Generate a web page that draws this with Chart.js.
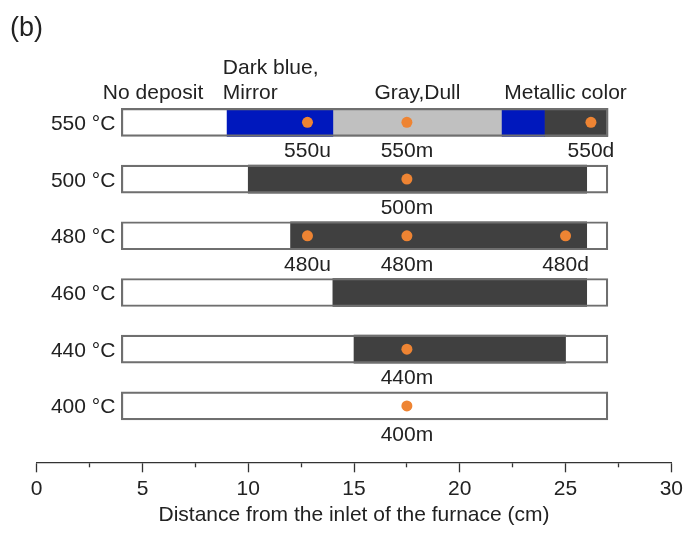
<!DOCTYPE html>
<html>
<head>
<meta charset="utf-8">
<script src="https://cdn.jsdelivr.net/npm/chart.js@4.4.1/dist/chart.umd.min.js"></script>
<style>
  html, body { margin: 0; padding: 0; background: #fff; }
  #wrap { width: 683px; height: 533px; }
</style>
</head>
<body>
<div id="wrap"><canvas id="depositChart"></canvas></div>
<script>
// Furnace set temperatures, top row first
const temps = ['550 °C', '500 °C', '480 °C', '460 °C', '440 °C', '400 °C'];

// Substrate tube extent along the furnace (cm)
const tubeStart = 4;
const tubeEnd = 27;

// Deposit zones: [from, to] in cm, and the row each one belongs to
const blueRows = ['550 °C', '550 °C'];
const blueSegs = [[9, 14], [22, 24]];
const grayRows = ['550 °C'];
const graySegs = [[14, 22]];
const darkRows = ['550 °C', '500 °C', '480 °C', '460 °C', '440 °C'];
const darkSegs = [[24, 27], [10, 26], [12, 26], [14, 26], [15, 25]];

// Sampling points
const sampleNames = ['550u', '550m', '550d', '500m', '480u', '480m', '480d', '440m', '400m'];
const sampleRows = ['550 °C', '550 °C', '550 °C', '500 °C', '480 °C', '480 °C', '480 °C', '440 °C', '400 °C'];
const samplePos = [12.8, 17.5, 26.2, 17.5, 12.8, 17.5, 25.0, 17.5, 17.5];

// Zone names printed above the 550 °C tube
const zoneNames = ['No deposit', ['Dark blue,', 'Mirror'], 'Gray,Dull', 'Metallic color'];
const zoneAt = [5.5, 8.8, 18, 25];
const zoneAlign = ['center', 'left', 'center', 'center'];

const xTitle = 'Distance from the inlet of the furnace (cm)';

const FONT = '"Liberation Sans", Arial, Helvetica, sans-serif';
const TEXT = '#222';

// row 550 °C sits at the top (y = 5), 400 °C at the bottom (y = 0)
const rowY = t => temps.length - 1 - temps.indexOf(t);
const segData = (segs, rows) => segs.map((s, i) => ({ x: s, y: rowY(rows[i]) }));

const barCommon = {
    type: 'bar',
    barThickness: 28,
    grouped: false,
    borderWidth: 0,
    borderSkipped: false,
    order: 2
};

const labels = {
    id: 'labels',
    afterDatasetsDraw(chart) {
        const { ctx, scales: { x, y } } = chart;
        ctx.save();
        ctx.fillStyle = TEXT;
        ctx.font = '21px ' + FONT;
        ctx.textBaseline = 'alphabetic';

        // temperature of each row, left of the tube
        ctx.textAlign = 'right';
        temps.forEach(t => {
            ctx.fillText(t, x.getPixelForValue(tubeStart) - 6, y.getPixelForValue(rowY(t)) + 7.5);
        });

        // sample names under the dots
        ctx.textAlign = 'center';
        const pts = chart.getDatasetMeta(chart.data.datasets.length - 1).data;
        pts.forEach((p, i) => ctx.fillText(sampleNames[i], p.x, p.y + 35));

        // zone names above the top tube
        const base = y.getPixelForValue(rowY('550 °C')) - 23;
        zoneNames.forEach((name, i) => {
            const lines = Array.isArray(name) ? name : [name];
            ctx.textAlign = zoneAlign[i];
            lines.forEach((line, k) => {
                ctx.fillText(line, x.getPixelForValue(zoneAt[i]), base - (lines.length - 1 - k) * 25.5);
            });
        });

        ctx.font = '27px ' + FONT;
        ctx.textAlign = 'left';
        ctx.fillText('(b)', 10, 36);
        ctx.restore();
    }
};

new Chart(document.getElementById('depositChart'), {
    data: {
        datasets: [
            {
                ...barCommon,
                data: temps.map(t => ({ x: [tubeStart, tubeEnd], y: rowY(t) })),
                backgroundColor: 'rgba(0,0,0,0)',
                borderColor: '#6f6f6f',
                borderWidth: 1.5,
                order: 1
            },
            { ...barCommon, data: segData(blueSegs, blueRows), backgroundColor: '#0018bd' },
            { ...barCommon, data: segData(graySegs, grayRows), backgroundColor: '#c0c0c0' },
            { ...barCommon, data: segData(darkSegs, darkRows), backgroundColor: '#404040' },
            {
                type: 'scatter',
                data: samplePos.map((v, i) => ({ x: v, y: rowY(sampleRows[i]) })),
                pointRadius: 5.5,
                pointBackgroundColor: '#ee8433',
                pointBorderWidth: 0,
                order: 0
            }
        ]
    },
    options: {
        indexAxis: 'y',
        responsive: true,
        maintainAspectRatio: false,
        animation: false,
        events: [],
        layout: {
            padding: { top: 94, left: 36.7, right: 11, bottom: 7.2 }
        },
        plugins: {
            legend: { display: false },
            tooltip: { enabled: false }
        },
        scales: {
            x: {
                type: 'linear',
                position: 'bottom',
                min: 0,
                max: 30,
                grid: {
                    drawOnChartArea: false,
                    tickLength: 16.2,
                    tickColor: '#333',
                    tickWidth: 1.3,
                    // only the top part of each tick line is drawn: 9 px major, 4 px minor (every 2.5 cm)
                    tickBorderDash: c => (c.tick && c.tick.value % 5 !== 0) ? [4, 40] : [9, 40]
                },
                border: { display: true, color: '#333', width: 1.3 },
                ticks: {
                    stepSize: 2.5,
                    autoSkip: false,
                    maxRotation: 0,
                    padding: 0,
                    color: TEXT,
                    font: { family: FONT, size: 21, lineHeight: 1 },
                    callback: v => (v % 5 === 0 ? v : '')
                },
                title: {
                    display: true,
                    text: xTitle,
                    color: TEXT,
                    font: { family: FONT, size: 21, lineHeight: 1 },
                    padding: { top: 5, bottom: 0 }
                }
            },
            y: {
                type: 'linear',
                display: false,
                offset: false,
                min: -1,
                max: 5.5
            }
        }
    },
    plugins: [labels]
});
</script>
</body>
</html>
